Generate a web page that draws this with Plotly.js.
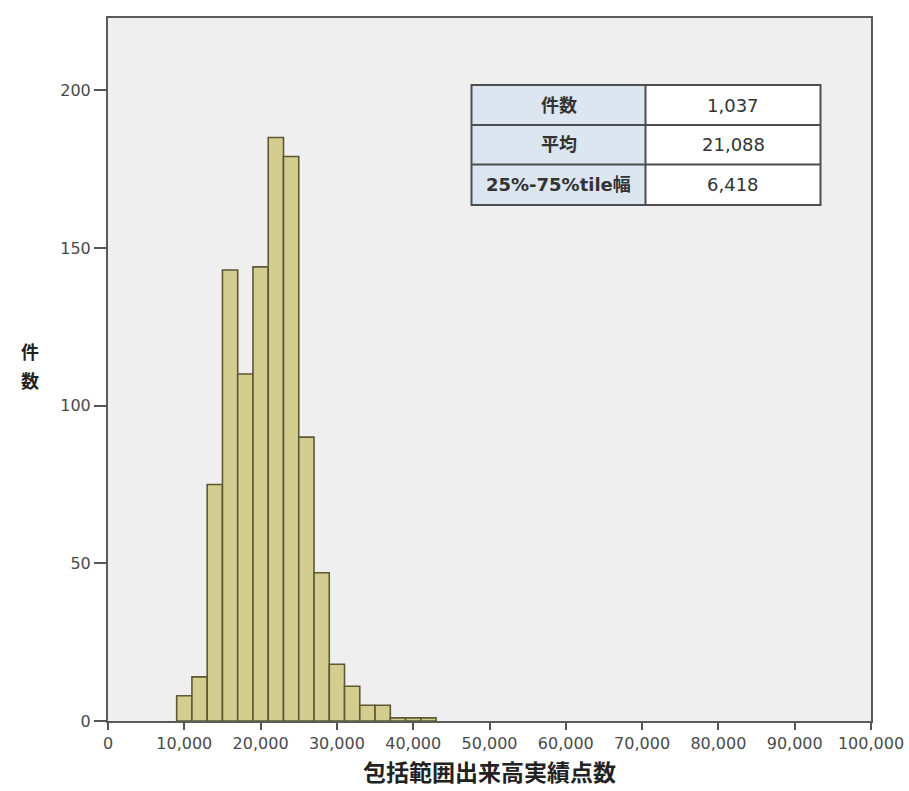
<!DOCTYPE html>
<html>
<head>
<meta charset="utf-8">
<script src="https://cdn.plot.ly/plotly-3.0.1.min.js"></script>
<style>html,body{margin:0;padding:0;background:#fff;}#chart{width:909px;height:791px;}</style>
</head>
<body>
<div id="chart"></div>
<script>
// ---- data ----
const binStart = [9000, 11000, 13000, 15000, 17000, 19000, 21000, 23000, 25000, 27000, 29000, 31000, 33000, 35000, 37000, 39000, 41000];
const counts   = [8, 14, 75, 143, 110, 144, 185, 179, 90, 47, 18, 11, 5, 5, 1, 1, 1];
const binWidth = 2000;
const xTickVals = [0, 10000, 20000, 30000, 40000, 50000, 60000, 70000, 80000, 90000, 100000];
const yTickVals = [0, 50, 100, 150, 200];
const statLabels = ['件数', '平均', '25%-75%tile幅'];
const statValues = ['1,037', '21,088', '6,418'];
const xTitle = '包括範囲出来高実績点数';
const yTitleChars = ['件', '数'];

// ---- geometry helpers (pixel -> paper) ----
const W = 909, H = 791;
const M = {l: 108, r: 38, t: 18, b: 70};
const pw = W - M.l - M.r, ph = H - M.t - M.b;
const px = x => (x - M.l) / pw;
const py = y => (H - M.b - y) / ph;

const trace = {
  type: 'bar',
  x: binStart,
  y: counts,
  width: binWidth,
  offset: 0,
  marker: {color: '#d3cd8f', line: {color: '#5e5835', width: 1.6}},
  hoverinfo: 'x+y'
};

// table
const tL = 471.5, tM = 645.5, tR = 820.5;
const rowEdges = [85, 125, 164.5, 205];
const shapes = [];
const annotations = [];
shapes.push({type: 'rect', xref: 'paper', yref: 'paper', x0: px(tL), x1: px(tM), y0: py(rowEdges[3]), y1: py(rowEdges[0]), fillcolor: '#dce6f1', line: {width: 0}, layer: 'above'});
shapes.push({type: 'rect', xref: 'paper', yref: 'paper', x0: px(tM), x1: px(tR), y0: py(rowEdges[3]), y1: py(rowEdges[0]), fillcolor: '#ffffff', line: {width: 0}, layer: 'above'});
shapes.push({type: 'rect', xref: 'paper', yref: 'paper', x0: px(tL), x1: px(tR), y0: py(rowEdges[3]), y1: py(rowEdges[0]), line: {color: '#4d4d4d', width: 2}, layer: 'above'});
shapes.push({type: 'line', xref: 'paper', yref: 'paper', x0: px(tM), x1: px(tM), y0: py(rowEdges[3]), y1: py(rowEdges[0]), line: {color: '#4d4d4d', width: 2}, layer: 'above'});
for (let i = 1; i < rowEdges.length - 1; i++) {
  shapes.push({type: 'line', xref: 'paper', yref: 'paper', x0: px(tL), x1: px(tR), y0: py(rowEdges[i]), y1: py(rowEdges[i]), line: {color: '#4d4d4d', width: 2}, layer: 'above'});
}
statLabels.forEach((lab, i) => {
  const yc = py((rowEdges[i] + rowEdges[i + 1]) / 2);
  annotations.push({xref: 'paper', yref: 'paper', x: px((tL + tM) / 2), y: yc, xanchor: 'center', yanchor: 'middle', showarrow: false,
    text: '<b>' + lab + '</b>', font: {family: 'DejaVu Sans, Noto Sans CJK JP', size: 18, color: '#333'}});
  annotations.push({xref: 'paper', yref: 'paper', x: px((tM + tR) / 2), y: yc, xanchor: 'center', yanchor: 'middle', showarrow: false,
    text: statValues[i], font: {family: 'DejaVu Sans', size: 18, color: '#333'}});
});
// axis titles
annotations.push({xref: 'paper', yref: 'paper', x: 0.5, y: py(789), xanchor: 'center', yanchor: 'bottom', showarrow: false, borderpad: 0,
  text: '<b>' + xTitle + '</b>', font: {family: 'Noto Sans CJK JP', size: 23, color: '#222'}});
annotations.push({xref: 'paper', yref: 'paper', x: px(30), y: py(365), xanchor: 'center', yanchor: 'bottom', showarrow: false, borderpad: 0,
  text: '<b>' + yTitleChars[0] + '</b>', font: {family: 'Noto Sans CJK JP', size: 18, color: '#222'}});
annotations.push({xref: 'paper', yref: 'paper', x: px(30), y: py(366), xanchor: 'center', yanchor: 'top', showarrow: false, borderpad: 0,
  text: '<b>' + yTitleChars[1] + '</b>', font: {family: 'Noto Sans CJK JP', size: 18, color: '#222'}});

const layout = {
  width: W, height: H,
  margin: M,
  paper_bgcolor: '#ffffff',
  plot_bgcolor: '#efefef',
  showlegend: false,
  bargap: 0,
  xaxis: {
    range: [0, 100000], tickvals: xTickVals, tickformat: ',', ticks: 'outside', ticklen: 7, tickwidth: 2, tickcolor: '#555',
    showline: true, mirror: true, linecolor: '#5a5a5a', linewidth: 2, showgrid: false, zeroline: false,
    tickfont: {family: 'DejaVu Sans', size: 16, color: '#4a4a4a'}
  },
  yaxis: {
    range: [0, 222.9], tickvals: yTickVals, ticks: 'outside', ticklen: 12, tickwidth: 2, tickcolor: '#555',
    showline: true, mirror: true, linecolor: '#5a5a5a', linewidth: 2, showgrid: false, zeroline: false,
    tickfont: {family: 'DejaVu Sans', size: 16, color: '#4a4a4a'}
  },
  shapes: shapes,
  annotations: annotations
};

Plotly.newPlot('chart', [trace], layout, {displayModeBar: false, staticPlot: true});
</script>
</body>
</html>
